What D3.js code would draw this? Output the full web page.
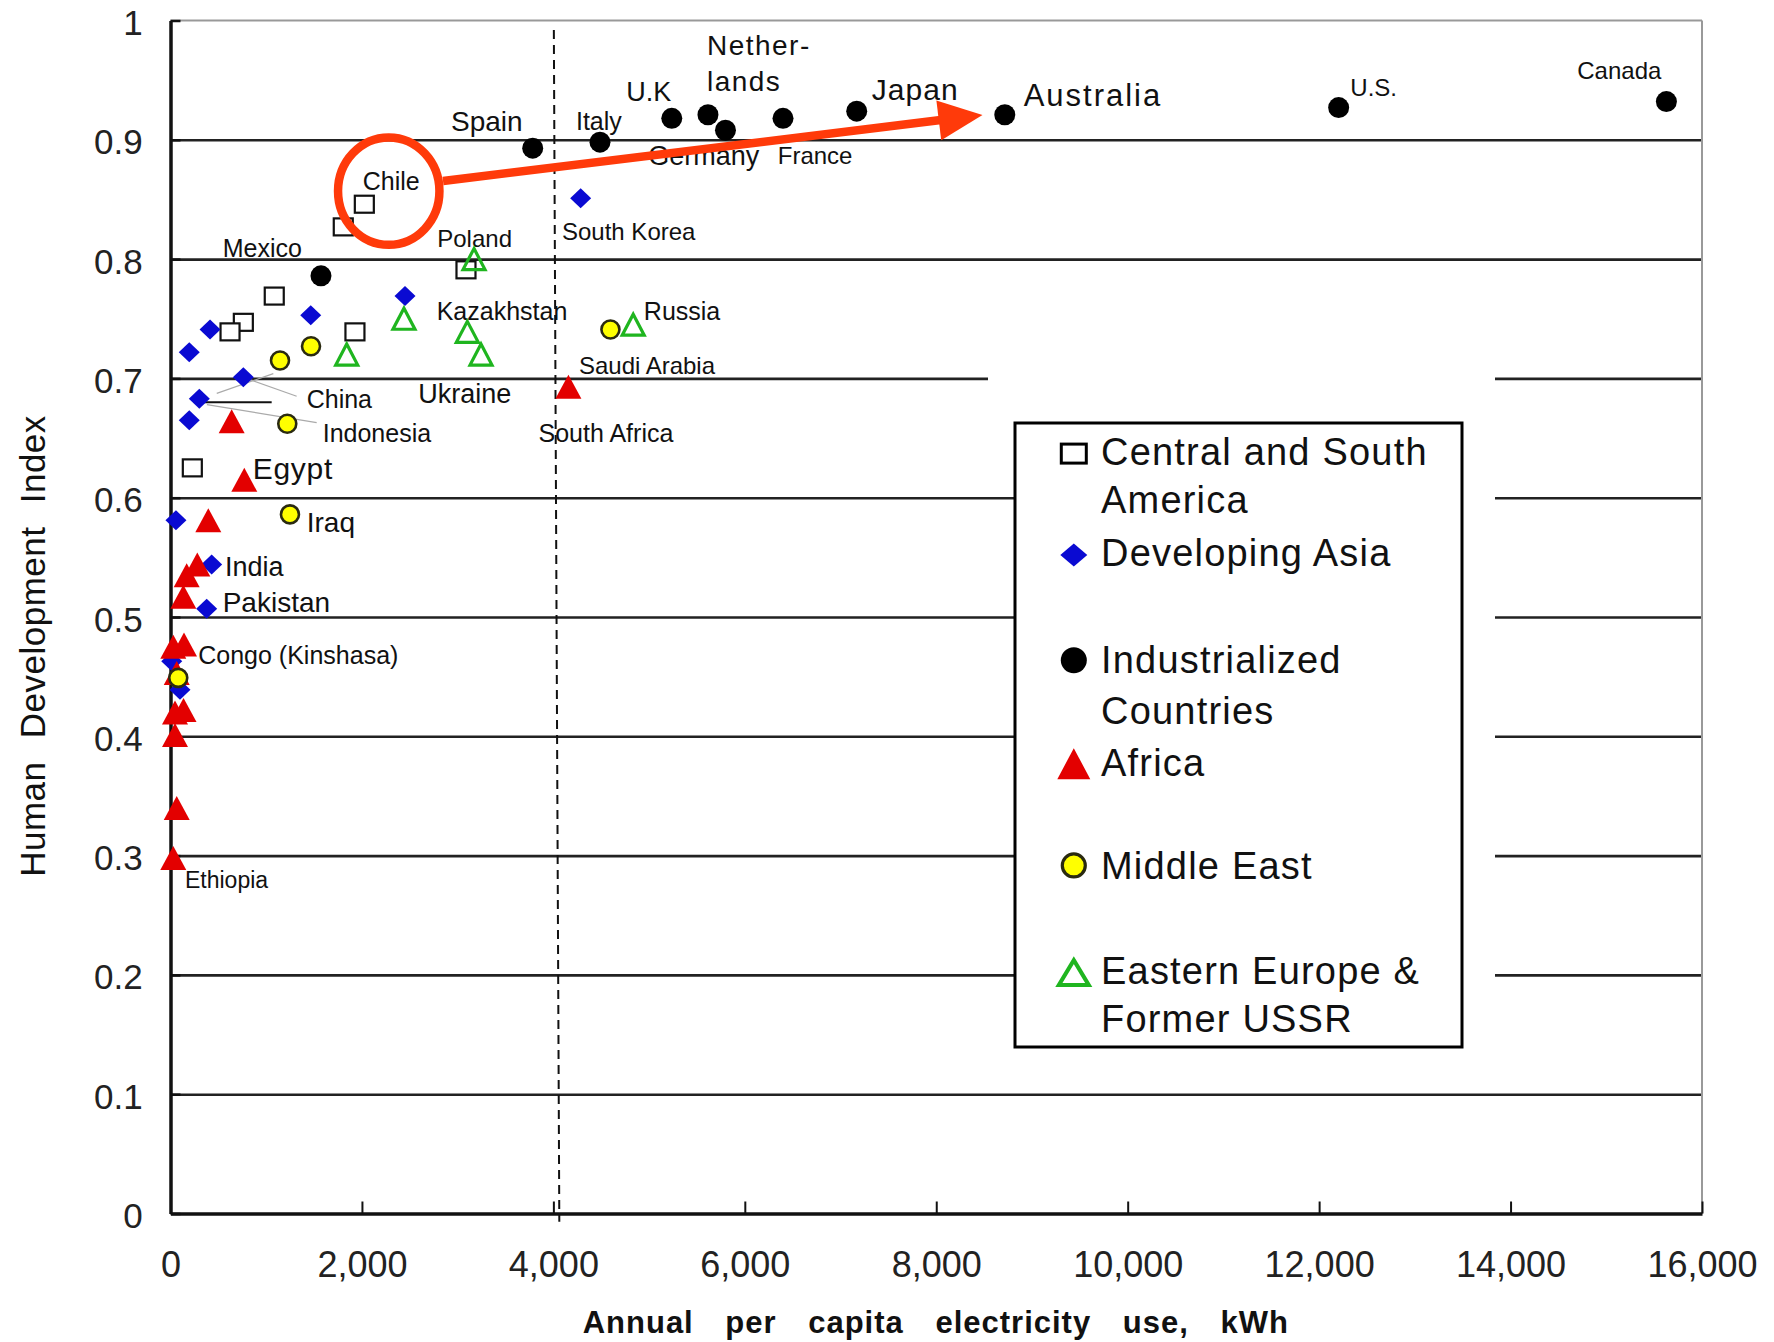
<!DOCTYPE html>
<html>
<head>
<meta charset="utf-8">
<script src="https://d3js.org/d3.v7.min.js"></script>
<style>
  body { margin: 0; background: #fff; }
  svg { display: block; font-family: "Liberation Sans", Arial, sans-serif; }
</style>
</head>
<body>
<script>
const svgwidth = 1774;
const svgheight = 1342;
const plotLeft = 170.5, plotRight = 1702, plotTop = 20.5, plotBottom = 1213.5;

// [kWh per capita, HDI] per region
const centralSouthAmerica = [
  [2025, 0.846], [1805, 0.827], [3087, 0.791], [1084, 0.769], [761, 0.747],
  [622, 0.739], [1927, 0.739], [228, 0.625]
];
const developingAsia = [
  [4285, 0.851], [2450, 0.769], [1465, 0.753], [413, 0.741], [196, 0.722],
  [761, 0.701], [301, 0.683], [196, 0.665], [57, 0.581], [430, 0.544],
  [378, 0.507], [13, 0.463], [99, 0.439]
];
const industrialized = [
  [3784, 0.893], [4487, 0.898], [5237, 0.918], [5615, 0.921], [5798, 0.908],
  [6399, 0.918], [7169, 0.924], [8716, 0.921], [12204, 0.927], [15628, 0.932],
  [1572, 0.786]
];
const africa = [
  [4157, 0.693], [639, 0.664], [771, 0.615], [395, 0.581], [280, 0.544],
  [169, 0.535], [134, 0.517], [29, 0.475], [141, 0.477], [65, 0.453],
  [47, 0.420], [136, 0.422], [47, 0.401], [65, 0.340], [29, 0.298]
];
const middleEast = [
  [4596, 0.741], [1468, 0.727], [1144, 0.715], [1220, 0.662], [1248, 0.586],
  [81, 0.449]
];
const easternEurope = [
  [3171, 0.800], [4834, 0.745], [2439, 0.750], [3101, 0.739], [3244, 0.720],
  [1841, 0.720]
];

const legendNames = [
  ["Central and South", "America"],
  ["Developing Asia"],
  ["Industrialized", "Countries"],
  ["Africa"],
  ["Middle East"],
  ["Eastern Europe &", "Former USSR"]
];

const xTicks = [0, 2000, 4000, 6000, 8000, 10000, 12000, 14000, 16000];
const yTicks = [0, 0.1, 0.2, 0.3, 0.4, 0.5, 0.6, 0.7, 0.8, 0.9, 1];
const yTickLabels = ["0", "0.1", "0.2", "0.3", "0.4", "0.5", "0.6", "0.7", "0.8", "0.9", "1"];
const gridValues = [0.1, 0.2, 0.3, 0.4, 0.5, 0.6, 0.7, 0.8, 0.9];

// country names, anchored at [kWh, HDI] (left / baseline)
const countryLabels = [
  ["Nether-", 5604, 0.971], ["lands", 5604, 0.941], ["U.K", 4761, 0.9325],
  ["Japan", 7327, 0.933], ["Australia", 8913, 0.928], ["U.S.", 12326, 0.937],
  ["Canada", 14697, 0.951], ["Spain", 2930, 0.907], ["Italy", 4236, 0.908],
  ["Germany", 4992, 0.879], ["France", 6344, 0.880], ["Chile", 2008, 0.858],
  ["Mexico", 545, 0.8015], ["Poland", 2787, 0.810], ["South Korea", 4090, 0.816],
  ["Kazakhstan", 2781, 0.749], ["Russia", 4945, 0.749], ["Saudi Arabia", 4267, 0.704],
  ["Ukraine", 2589, 0.679], ["China", 1423, 0.675], ["Indonesia", 1590, 0.647],
  ["South Africa", 3845, 0.647], ["Egypt", 859, 0.616], ["Iraq", 1423, 0.5715],
  ["India", 569, 0.534], ["Pakistan", 545, 0.504], ["Congo (Kinshasa)", 290, 0.461],
  ["Ethiopia", 151, 0.2726]
];

// leader lines near China / Indonesia: [kWh1, HDI1, kWh2, HDI2]
const leaderLines = [
  [761, 0.701, 1318, 0.685], [380, 0.678, 1527, 0.663], [483, 0.6875, 1074, 0.704]
];
const chinaBar = [301, 1057, 0.680];

// red highlight: circle round Chile, arrow to Australia
const highlightCenter = [2280, 0.857];
const arrowFrom = [2847, 0.8655];
const arrowTo = [8483, 0.9208];
const dashedLine = [4005, 0.992, 4062, -0.007];

const labelSize = {
  "Nether-": 28, "lands": 28, "U.K": 27, "Japan": 30, "Australia": 31, "U.S.": 24,
  "Canada": 24, "Spain": 28, "Italy": 25, "Germany": 27, "France": 24, "Chile": 25,
  "Mexico": 25, "Poland": 24, "South Korea": 24, "Kazakhstan": 25, "Russia": 25,
  "Saudi Arabia": 24, "Ukraine": 27, "China": 25, "Indonesia": 25, "South Africa": 25,
  "Egypt": 30, "Iraq": 28, "India": 27, "Pakistan": 28, "Congo (Kinshasa)": 25, "Ethiopia": 23
};
const labelSpacing = { "Australia": 2, "Nether-": 1.5, "lands": 1.5, "Japan": 1, "Egypt": 0.7 };

const svg = d3.select("body").append("svg")
  .attr("width", svgwidth)
  .attr("height", svgheight);

svg.append("rect").attr("width", svgwidth).attr("height", svgheight).attr("fill", "#fff");

const xScale = d3.scaleLinear().domain([0, 16000]).range([plotLeft, plotRight]);
const yScale = d3.scaleLinear().domain([0, 1]).range([plotBottom, plotTop]);

//labels go under the lines, like in the original
svg.append("g")
  .selectAll("text")
  .data(countryLabels)
  .enter()
  .append("text")
  .attr("x", d => xScale(d[1]))
  .attr("y", d => yScale(d[2]))
  .attr("font-size", d => labelSize[d[0]])
  .attr("letter-spacing", d => labelSpacing[d[0]] || 0)
  .attr("fill", "#111")
  .text(d => d[0]);

//grid
const grid = svg.append("g")
  .attr("transform", "translate(" + plotLeft + ",0)")
  .call(d3.axisLeft(yScale).tickValues(gridValues).tickSize(-(plotRight - plotLeft)).tickFormat(""));
grid.select(".domain").remove();
grid.selectAll(".tick line").attr("stroke", "#222").attr("stroke-width", 2.6);

//top and right border
svg.append("line")
  .attr("x1", plotLeft).attr("x2", plotRight)
  .attr("y1", yScale(1)).attr("y2", yScale(1))
  .attr("stroke", "#999").attr("stroke-width", 2);
svg.append("line")
  .attr("x1", plotRight).attr("x2", plotRight)
  .attr("y1", yScale(1)).attr("y2", yScale(0))
  .attr("stroke", "#999").attr("stroke-width", 2);

//white area behind the legend
svg.append("rect").attr("x", 1015).attr("y", 423).attr("width", 480).attr("height", 624).attr("fill", "#fff");
svg.append("rect").attr("x", 988).attr("y", yScale(0.7) - 6).attr("width", 507).attr("height", 12).attr("fill", "#fff");

//dashed 4000 kWh line
svg.append("line")
  .attr("x1", xScale(dashedLine[0])).attr("y1", yScale(dashedLine[1]))
  .attr("x2", xScale(dashedLine[2])).attr("y2", yScale(dashedLine[3]))
  .attr("stroke", "#111").attr("stroke-width", 2)
  .attr("stroke-dasharray", "9,6");

//axes
const xAxis = svg.append("g")
  .attr("transform", "translate(0," + plotBottom + ")")
  .call(d3.axisBottom(xScale).tickValues(xTicks).tickSize(-12).tickSizeOuter(0)
    .tickPadding(37.6).tickFormat(d3.format(",")));
xAxis.select(".domain").attr("stroke", "#111").attr("stroke-width", 3.5);
xAxis.selectAll(".tick line").attr("stroke", "#111").attr("stroke-width", 2);
xAxis.selectAll("text").attr("font-size", 36).attr("fill", "#222")
  .attr("font-family", "'Liberation Sans', Arial, sans-serif");

const yAxis = svg.append("g")
  .attr("transform", "translate(" + plotLeft + ",0)")
  .call(d3.axisLeft(yScale).tickValues(yTicks).tickSize(-10).tickSizeOuter(0)
    .tickPadding(27.8).tickFormat((d, i) => yTickLabels[i]));
yAxis.select(".domain").attr("stroke", "#111").attr("stroke-width", 3.5);
yAxis.selectAll(".tick line").attr("stroke", "#111").attr("stroke-width", 2.5);
yAxis.selectAll("text").attr("font-size", 35).attr("fill", "#222").attr("dy", "0.4em")
  .attr("font-family", "'Liberation Sans', Arial, sans-serif");

//axis titles
svg.append("text")
  .attr("x", 582.7).attr("y", 1333)
  .attr("font-size", 31).attr("font-weight", "bold")
  .attr("letter-spacing", 1).attr("word-spacing", 22)
  .attr("fill", "#111")
  .text("Annual per capita electricity use, kWh");

svg.append("text")
  .attr("transform", "translate(45,646) rotate(-90)")
  .attr("text-anchor", "middle")
  .attr("font-size", 35)
  .attr("letter-spacing", 0.5).attr("word-spacing", 13)
  .attr("fill", "#111")
  .text("Human Development Index");

//leader lines
svg.append("g").selectAll("line")
  .data(leaderLines)
  .enter()
  .append("line")
  .attr("x1", d => xScale(d[0])).attr("y1", d => yScale(d[1]))
  .attr("x2", d => xScale(d[2])).attr("y2", d => yScale(d[3]))
  .attr("stroke", "#aaa").attr("stroke-width", 1.2);
svg.append("line")
  .attr("x1", xScale(chinaBar[0])).attr("x2", xScale(chinaBar[1]))
  .attr("y1", yScale(chinaBar[2])).attr("y2", yScale(chinaBar[2]))
  .attr("stroke", "#111").attr("stroke-width", 2);

//marker shapes
function triPath(w, h) {
  return "M0," + (-h / 2) + "L" + (w / 2) + "," + (h / 2) + "L" + (-w / 2) + "," + (h / 2) + "Z";
}
function diamondPath(w, h) {
  return "M0," + (-h / 2) + "L" + (w / 2) + ",0L0," + (h / 2) + "L" + (-w / 2) + ",0Z";
}
function addMarker(g, type) {
  if (type === "square") {
    g.append("rect").attr("x", -9.5).attr("y", -8.5)
      .attr("width", 19).attr("height", 17)
      .attr("fill", "#fff").attr("stroke", "#111").attr("stroke-width", 2.2);
  } else if (type === "diamond") {
    g.append("path").attr("d", diamondPath(21, 20)).attr("fill", "#0a0ad2");
  } else if (type === "circle") {
    g.append("circle").attr("r", 10.5).attr("fill", "#000");
  } else if (type === "redTri") {
    g.append("path").attr("d", triPath(26, 24)).attr("fill", "#e30000");
  } else if (type === "greenTri") {
    g.append("path").attr("d", triPath(22, 21))
      .attr("fill", "none").attr("stroke", "#1fb51f").attr("stroke-width", 3.2);
  } else if (type === "yellow") {
    g.append("circle").attr("r", 9).attr("fill", "#ffff00")
      .attr("stroke", "#2a2a10").attr("stroke-width", 2.6);
  }
}

const series = [
  { data: centralSouthAmerica, type: "square" },
  { data: developingAsia, type: "diamond" },
  { data: industrialized, type: "circle" },
  { data: africa, type: "redTri" },
  { data: easternEurope, type: "greenTri" },
  { data: middleEast, type: "yellow" }
];

series.forEach(s => {
  svg.append("g")
    .selectAll("g")
    .data(s.data)
    .enter()
    .append("g")
    .attr("transform", d => "translate(" + xScale(d[0]) + "," + yScale(d[1]) + ")")
    .each(function() { addMarker(d3.select(this), s.type); });
});

//legend
svg.append("rect")
  .attr("x", 1015).attr("y", 423).attr("width", 447).attr("height", 624)
  .attr("fill", "#fff").attr("stroke", "#000").attr("stroke-width", 3);

const legendTypes = ["square", "diamond", "circle", "redTri", "yellow", "greenTri"];
const symbolY = [453.6, 555, 660.3, 763.7, 865.4, 972.6];
const textY = [[464.5, 513], [565.8], [673.4, 724], [775.5], [879], [983.5, 1032]];

legendNames.forEach((lines, i) => {
  const g = svg.append("g").attr("transform", "translate(1073.8," + symbolY[i] + ")");
  const t = legendTypes[i];
  if (t === "square") {
    g.append("rect").attr("x", -12.5).attr("y", -9.5).attr("width", 25).attr("height", 19)
      .attr("fill", "#fff").attr("stroke", "#000").attr("stroke-width", 3);
  } else if (t === "diamond") {
    g.append("path").attr("d", diamondPath(27, 23)).attr("fill", "#0a0ad2");
  } else if (t === "circle") {
    g.append("circle").attr("r", 13).attr("fill", "#000");
  } else if (t === "redTri") {
    g.append("path").attr("d", triPath(33, 31)).attr("fill", "#e30000");
  } else if (t === "yellow") {
    g.append("circle").attr("r", 11.5).attr("fill", "#ffff00")
      .attr("stroke", "#2a2a10").attr("stroke-width", 3.2);
  } else {
    g.append("path").attr("d", triPath(30, 25)).attr("fill", "none")
      .attr("stroke", "#1fb51f").attr("stroke-width", 4);
  }
  lines.forEach((line, j) => {
    svg.append("text")
      .attr("x", 1101).attr("y", textY[i][j])
      .attr("font-size", 38).attr("letter-spacing", 1.2)
      .attr("fill", "#111")
      .text(line);
  });
});

//red circle and arrow
const red = "#ff3a0a";
svg.append("ellipse")
  .attr("cx", xScale(highlightCenter[0])).attr("cy", yScale(highlightCenter[1]))
  .attr("rx", 50.7).attr("ry", 53.7)
  .attr("fill", "none").attr("stroke", red).attr("stroke-width", 8.5);

const p0 = [xScale(arrowFrom[0]), yScale(arrowFrom[1])];
const p1 = [xScale(arrowTo[0]), yScale(arrowTo[1])];
const len = Math.hypot(p1[0] - p0[0], p1[1] - p0[1]);
const ux = (p1[0] - p0[0]) / len, uy = (p1[1] - p0[1]) / len;
const headLen = 44, headHalf = 20;
const base = [p1[0] - ux * headLen, p1[1] - uy * headLen];
svg.append("line")
  .attr("x1", p0[0]).attr("y1", p0[1])
  .attr("x2", base[0] + ux * 2).attr("y2", base[1] + uy * 2)
  .attr("stroke", red).attr("stroke-width", 8.5);
svg.append("path")
  .attr("d", "M" + p1[0] + "," + p1[1] +
    "L" + (base[0] - uy * headHalf) + "," + (base[1] + ux * headHalf) +
    "L" + (base[0] + uy * headHalf) + "," + (base[1] - ux * headHalf) + "Z")
  .attr("fill", red);
</script>
</body>
</html>
